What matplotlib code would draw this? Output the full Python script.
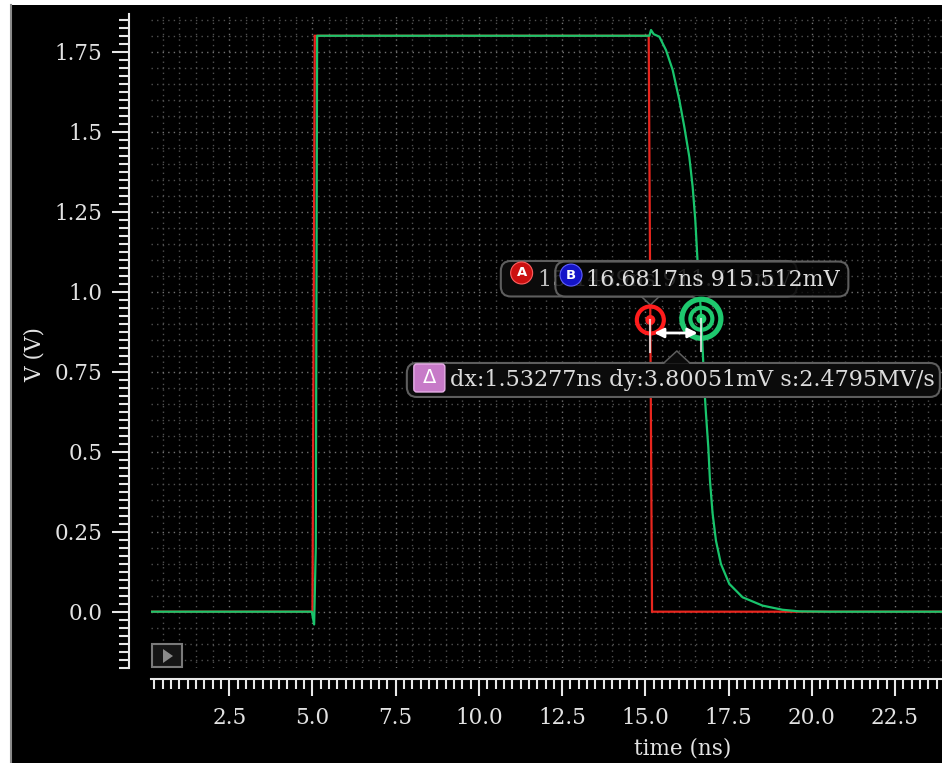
import numpy as np
import matplotlib
matplotlib.use('Agg')
import matplotlib.pyplot as plt
from matplotlib.patches import FancyBboxPatch, Circle, Polygon, Rectangle, FancyArrowPatch
from matplotlib.transforms import IdentityTransform
from matplotlib.lines import Line2D

# ---------------- data ----------------
red_t = [0.15, 5.00, 5.07, 15.10, 15.20, 23.91]
red_v = [0.0, 0.0, 1.80, 1.80, 0.0, 0.0]

green_t = [0.15, 4.98, 5.05, 5.10, 5.14, 15.12, 15.17, 15.25, 15.42, 15.62, 15.82,
           16.02, 16.17, 16.32, 16.42, 16.50, 16.57, 16.6817, 16.77, 16.82, 16.89,
           16.94, 17.02, 17.12, 17.27, 17.52, 17.92, 18.52, 19.12, 19.62, 20.5, 23.91]
green_v = [0.0, 0.0, -0.04, 0.20, 1.80, 1.80, 1.818, 1.805, 1.797, 1.755, 1.693,
           1.599, 1.515, 1.421, 1.328, 1.223, 1.09, 0.9155, 0.702, 0.619, 0.514,
           0.41, 0.306, 0.222, 0.149, 0.087, 0.045, 0.019, 0.006, 0.001, 0.0, 0.0]

x_ticks = [2.5, 5.0, 7.5, 10.0, 12.5, 15.0, 17.5, 20.0, 22.5]
x_tick_labels = ['2.5', '5.0', '7.5', '10.0', '12.5', '15.0', '17.5', '20.0', '22.5']
y_ticks = [0.0, 0.25, 0.5, 0.75, 1.0, 1.25, 1.5, 1.75]
y_tick_labels = ['0.0', '0.25', '0.5', '0.75', '1.0', '1.25', '1.5', '1.75']

cursor_a = (15.14893, 0.911712)
cursor_b = (16.6817, 0.915512)
label_a = '15.1489ns 911.712mV'
label_b = '16.6817ns 915.512mV'
label_delta = 'dx:1.53277ns dy:3.80051mV s:2.4795MV/s'
x_label = 'time (ns)'
y_label = 'V (V)'

# ---------------- figure ----------------
plt.rcParams['font.family'] = ['DejaVu Serif', 'DejaVu Sans']
W, H = 942, 763
fig = plt.figure(figsize=(W / 100, H / 100), dpi=100, facecolor='black')
ax_left, ax_top, ax_bottom = 151, 14, 668
ax = fig.add_axes([ax_left / W, (H - ax_bottom) / H, (W - ax_left) / W, (ax_bottom - ax_top) / H])
ax.set_facecolor('black')
ax.set_xlim(0.15, 23.91)
ax.set_ylim(-0.176, 1.868)

# grid
for gx in np.arange(0.5, 23.91, 0.5):
    major = abs(gx / 2.5 - round(gx / 2.5)) < 1e-6
    ax.axvline(gx, color='#727272' if major else '#505050', lw=1.0, ls=(0, (1, 3)), zorder=0)
for gy in np.arange(-0.15, 1.868, 0.05):
    major = abs(gy / 0.25 - round(gy / 0.25)) < 1e-6
    ax.axhline(gy, color='#727272' if major else '#505050', lw=1.0, ls=(0, (1, 3)), zorder=0)

# curves
ax.plot(red_t, red_v, color='#e8261e', lw=1.6, zorder=3, solid_joinstyle='miter')
ax.plot(green_t, green_v, color='#19c46c', lw=1.6, zorder=4)

# spines & ticks
for s in ['top', 'right']:
    ax.spines[s].set_visible(False)
ax.spines['left'].set_position(('outward', 22 * 0.72))
ax.spines['bottom'].set_position(('outward', 11 * 0.72))
for s in ['left', 'bottom']:
    ax.spines[s].set_color('#e8e8e8')
    ax.spines[s].set_linewidth(1.5)

ax.set_xticks(x_ticks, labels=x_tick_labels)
ax.set_yticks(y_ticks, labels=y_tick_labels)
ax.set_xticks(np.arange(0.25, 23.91, 0.25), minor=True)
ax.set_yticks(np.arange(-0.175, 1.868, 0.025), minor=True)
ax.tick_params(which='major', length=12.2, width=1.5, color='#e8e8e8',
               labelcolor='#e2e2e2', labelsize=15.5, direction='out')
ax.tick_params(which='minor', length=7, width=1.5, color='#e8e8e8', direction='out')
ax.tick_params(axis='y', which='major', pad=7)
ax.tick_params(axis='x', which='major', pad=8)

# axis labels (pixel placed)
def P(x, ytop):
    return (x, H - ytop)

fig.text(*P(35, 355), y_label, transform=IdentityTransform(), rotation=90,
         ha='center', va='center', color='#e2e2e2', fontsize=15.5)
fig.text(*P(683, 748), x_label, transform=IdentityTransform(),
         ha='center', va='center', color='#e2e2e2', fontsize=15.5)

# ---------------- cursor UI ----------------
def to_px(pt):
    x, y = ax.transData.transform(pt)
    return x, H - y

a_x, a_y = to_px(cursor_a)
b_x, b_y = to_px(cursor_b)
ID = IdentityTransform()

def rbox(x0, y0, x1, y1, fc, ec, lw=1.5, r=10, z=5):
    p = FancyBboxPatch((x0, H - y1), x1 - x0, y1 - y0,
                       boxstyle=f'round,pad=0,rounding_size={r}',
                       transform=ID, fc=fc, ec=ec, lw=lw, zorder=z)
    fig.add_artist(p)
    return p

def circ(x, ytop, r, fc='none', ec='none', lw=0, z=6):
    c = Circle(P(x, ytop), r, transform=ID, fc=fc, ec=ec, lw=lw, zorder=z)
    fig.add_artist(c)
    return c

def poly(pts, fc='none', ec='none', lw=1, z=6, closed=True):
    p = Polygon([P(x, y) for x, y in pts], closed=closed, transform=ID,
                fc=fc, ec=ec, lw=lw, zorder=z)
    fig.add_artist(p)
    return p

def line(pts, color, lw, z=6, alpha=1):
    xs = [p[0] for p in pts]
    ys = [H - p[1] for p in pts]
    l = Line2D(xs, ys, transform=ID, color=color, lw=lw, zorder=z, alpha=alpha)
    fig.add_artist(l)

txt_col = '#dcdcdc'
box_ec = '#5e5e5e'

# label A
rbox(a_x - 149.5, a_y - 59, a_x + 146.5, a_y - 23.5, fc='#0b0b0b', ec=box_ec, z=5)
poly([(a_x - 9, a_y - 24.2), (a_x, a_y - 15), (a_x + 9, a_y - 24.2)], fc='#0b0b0b', ec='none', z=5.1)
line([(a_x - 9, a_y - 23.5), (a_x, a_y - 15), (a_x + 9, a_y - 23.5)], box_ec, 1.1, z=5.2)
circ(a_x - 128.7, a_y - 47, 11, fc='#cc1010', ec='#ff6060', lw=0.8, z=5.3)
fig.text(a_x - 128.7, H - (a_y - 47), 'A', transform=ID, ha='center', va='center',
         color='white', fontsize=9.5, fontweight='bold', family='DejaVu Sans', zorder=5.4)
fig.text(a_x - 112, H - (a_y - 40), label_a, transform=ID, ha='left', va='center',
         color='#bdbdbd', fontsize=16, zorder=5.3)

# label B (semi-transparent, on top)
rbox(b_x - 146, b_y - 57.2, b_x + 147, b_y - 22.2, fc=(0.02, 0.02, 0.02, 0.82), ec=box_ec, z=6)
poly([(b_x - 9, b_y - 22.9), (b_x, b_y - 19), (b_x + 9, b_y - 22.9)], fc='#0b0b0b', ec='none', z=6.1)
line([(b_x - 9, b_y - 22.2), (b_x, b_y - 19), (b_x + 9, b_y - 22.2)], box_ec, 1.1, z=6.2)
circ(b_x - 130.3, b_y - 43.7, 11, fc='#1414c8', ec='#6060ff', lw=0.8, z=6.3)
fig.text(b_x - 130.3, H - (b_y - 43.7), 'B', transform=ID, ha='center', va='center',
         color='white', fontsize=9.5, fontweight='bold', family='DejaVu Sans', zorder=6.4)
fig.text(b_x - 115, H - (b_y - 39), label_b, transform=ID, ha='left', va='center',
         color=txt_col, fontsize=16, zorder=6.4)

# cursor markers
circ(a_x, a_y, 13.5, fc='none', ec='#ff1c1c', lw=3.0, z=7)
circ(a_x, a_y, 5, fc='#ff2020', z=7)
circ(b_x, b_y, 19.5, fc='none', ec='#1ec86e', lw=3.8, z=7)
circ(b_x, b_y, 11, fc='none', ec='#1ec86e', lw=3.0, z=7)
circ(b_x, b_y, 5, fc='#22d070', z=7)
line([(a_x, a_y), (a_x, a_y + 32)], '#f0f0f0', 1.5, z=7, alpha=0.8)
line([(b_x, b_y), (b_x, b_y + 32)], '#f0f0f0', 1.5, z=7, alpha=0.8)

# delta arrow
ay_arrow = a_y + 13
arr = FancyArrowPatch(P(a_x + 1, ay_arrow), P(b_x - 1, ay_arrow), transform=ID,
                      arrowstyle='<|-|>', mutation_scale=14, color='white', lw=2, zorder=8)
fig.add_artist(arr)

# delta label
mid = (a_x + b_x) / 2
rbox(mid - 269, a_y + 43, mid + 264, a_y + 77, fc='#0b0b0b', ec=box_ec, z=8)
poly([(mid - 12, a_y + 43.8), (mid + 1, a_y + 31), (mid + 14, a_y + 43.8)], fc='#0b0b0b', ec='none', z=8.1)
line([(mid - 12, a_y + 43), (mid + 1, a_y + 31), (mid + 14, a_y + 43)], box_ec, 1.1, z=8.2)
rbox(mid - 262, a_y + 44, mid - 231, a_y + 72, fc='#c77ac8', ec='#e8b0e8', lw=1, r=3, z=8.3)
fig.text(mid - 246.5, H - (a_y + 58), '\u0394', transform=ID, ha='center', va='center',
         color='white', fontsize=14, family='DejaVu Sans', zorder=8.4)
fig.text(mid - 226, H - (a_y + 60), label_delta, transform=ID, ha='left', va='center',
         color=txt_col, fontsize=16, zorder=8.4)

# play button
pb = FancyBboxPatch(P(ax_left + 0.5, ax_bottom - 1.5), 30, 22.5, boxstyle='square,pad=0',
                    transform=ID, fc='#151515', ec='#7a7a7a', lw=1.5, zorder=5)
fig.add_artist(pb)
poly([(ax_left + 12, ax_bottom - 19), (ax_left + 12, ax_bottom - 5), (ax_left + 22, ax_bottom - 12)],
     fc='#8a8a8a', ec='none', z=5.1)

# window margins
fig.add_artist(Rectangle((0, 0), 10 / W, 1, transform=fig.transFigure, fc='white', ec='none', zorder=10))
fig.add_artist(Rectangle((0, 1 - 5 / H), 1, 5 / H, transform=fig.transFigure, fc='white', ec='none', zorder=10))
fig.add_artist(Line2D([10.5 / W, 10.5 / W], [0, 1 - 5 / H], transform=fig.transFigure,
                      color='#8a8a8a', lw=1.5, zorder=11))

fig.savefig('out.png', dpi=100, facecolor='black')
